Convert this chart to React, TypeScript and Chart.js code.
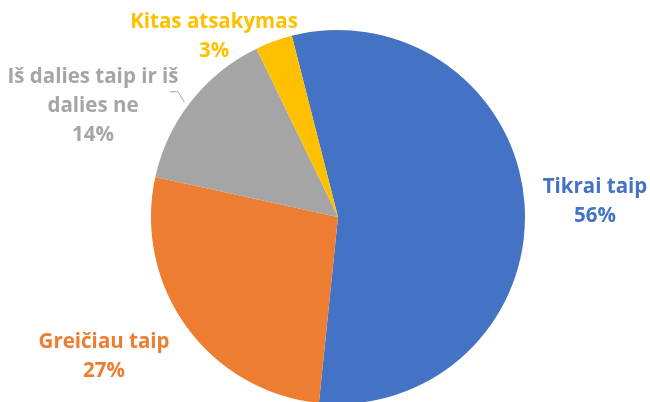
import React, { useEffect, useRef } from "react";
import { Chart, registerables } from "chart.js";

Chart.register(...registerables);

const categories = ["Tikrai taip", "Greičiau taip", "Iš dalies taip ir iš dalies ne", "Kitas atsakymas"];
const labelLines = [["Tikrai taip"], ["Greičiau taip"], ["Iš dalies taip ir iš", "dalies ne"], ["Kitas atsakymas"]];
const values = [55.6, 26.8, 14.4, 3.2];
const colors = ["#4472C4", "#ED7D31", "#A5A5A5", "#FFC000"];

// label anchor (first line centre) relative to pie centre, in units of radius
const labelAnchors = [
  [1.374, -0.16],
  [-1.251, 0.668],
  [-1.31, -0.749],
  [-0.663, -1.043],
];

const labelPlugin = {
  id: "pieLabels",
  afterDraw(chart: any) {
    const meta = chart.getDatasetMeta(0);
    if (!meta.data.length) return;
    const arc0 = meta.data[0];
    const cx = arc0.x;
    const cy = arc0.y;
    const r = arc0.outerRadius;
    const ctx = chart.ctx;
    const total = values.reduce((a, b) => a + b, 0);
    ctx.save();
    ctx.font = "bold 20.5px 'Open Sans', sans-serif";
    ctx.textAlign = "center";
    ctx.textBaseline = "middle";
    const lh = 29;
    values.forEach((v, i) => {
      const lines = [...labelLines[i], Math.round((v / total) * 100) + "%"];
      const x = cx + labelAnchors[i][0] * r;
      const y0 = cy + labelAnchors[i][1] * r;
      ctx.fillStyle = colors[i];
      lines.forEach((t, k) => ctx.fillText(t, x, y0 + k * lh));
    });
    // leader line for gray label
    const gx = cx - 0.855 * r;
    const gy = cy - 0.67 * r;
    ctx.strokeStyle = "#A5A5A5";
    ctx.lineWidth = 1;
    ctx.beginPath();
    ctx.moveTo(gx - 8, gy);
    ctx.lineTo(gx, gy);
    ctx.lineTo(gx + 6, gy + 10);
    ctx.stroke();
    ctx.restore();
  },
};

export default function App() {
  const ref = useRef<HTMLCanvasElement>(null);
  useEffect(() => {
    document.body.style.margin = "0";
    const chart = new Chart(ref.current!, {
      type: "pie",
      data: {
        labels: categories,
        datasets: [
          {
            data: values,
            backgroundColor: colors,
            borderWidth: 0,
          },
        ],
      },
      options: {
        responsive: false,
        animation: false,
        rotation: -14.3,
        layout: { padding: { left: 151, right: 125, top: 30, bottom: 6 } },
        plugins: {
          legend: { display: false },
          tooltip: { enabled: false },
          title: { display: false },
        },
      },
      plugins: [labelPlugin],
    });
    return () => chart.destroy();
  }, []);
  return (
    <div style={{ width: 650, height: 402, overflow: "hidden", position: "relative", background: "#fff" }}>
      <canvas ref={ref} width={650} height={410} style={{ width: 650, height: 410, display: "block" }} />
    </div>
  );
}
